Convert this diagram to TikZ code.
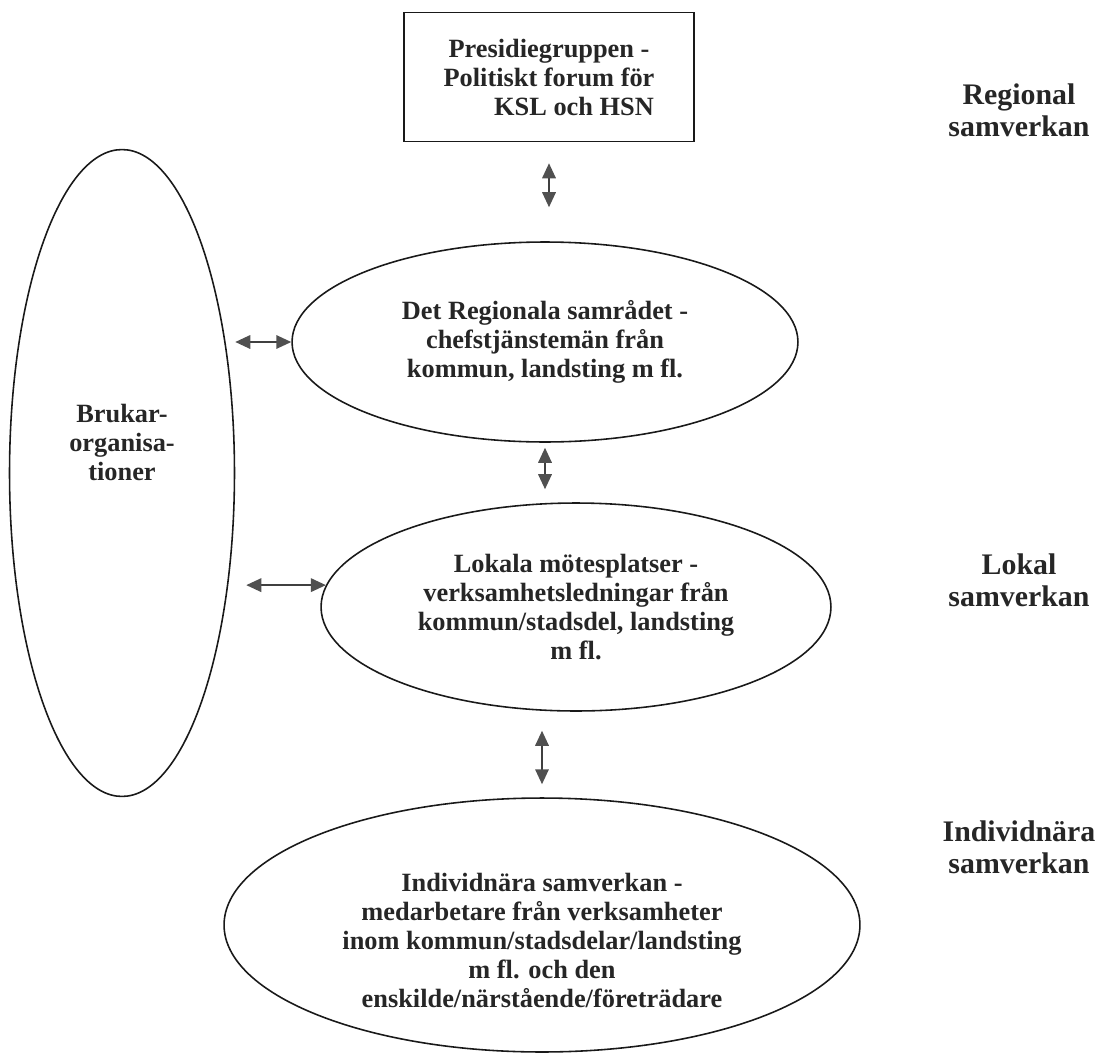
\documentclass[tikz,border=0pt]{standalone}
\usepackage{fontspec}
\setmainfont{Liberation Serif}
\usetikzlibrary{arrows.meta, calc, shapes.geometric}
\definecolor{txtgray}{HTML}{262626}
\definecolor{tipgray}{HTML}{505050}

\begin{document}
\begin{tikzpicture}[x=0.02cm, y=-0.02cm,
    every node/.style={font=\bfseries\fontsize{15}{16.5}\selectfont, text=txtgray, align=center},
    oval/.style={ellipse, draw=black!90, line width=0.9pt, inner sep=0pt},
    level/.style={font=\bfseries\fontsize{17}{18}\selectfont},
    >={Triangle[length=0.3cm, width=0.27cm, color=tipgray]},
    dblarrow/.style={<->, line width=1pt, draw=black!75}]
  \useasboundingbox (0,0) rectangle (1102,1058);

  \node[draw=black!90, line width=0.9pt, minimum width=5.8cm, minimum height=2.58cm] (presidie) at (549,77) {Presidiegruppen -\\ Politiskt forum för\\ \hspace*{1.9em}KSL och HSN};
  \node[oval, minimum width=10.12cm, minimum height=4cm] (reg) at (545,342) {Det Regionala samrådet -\\ chefstjänstemän från\\ kommun, landsting m fl.};
  \node[oval, minimum width=10.2cm, minimum height=4.16cm] (lok) at (576,607) {Lokala mötesplatser -\\ verksamhetsledningar från\\ kommun/stadsdel, landsting\\ m fl.};
  \node[oval, minimum width=12.72cm, minimum height=5.08cm, label={[yshift=-0.3cm]center:{Individnära samverkan -\\ medarbetare från verksamheter\\ inom kommun/stadsdelar/landsting\\ m fl. och den\\ enskilde/närstående/företrädare}}] (indiv) at (542,925) {};
  \node[oval, minimum width=4.5cm, minimum height=12.94cm, label={[yshift=0.62cm]center:{Brukar-\\ organisa-\\ tioner}}] (bruk) at (122,473) {};

  \node[level] (lblreg) at (1019,110) {Regional\\ samverkan};
  \node[level] (lbllok) at (1019,580) {Lokal\\ samverkan};
  \node[level] (lblind) at (1019,847) {Individnära\\ samverkan};

  \draw[dblarrow, shorten <=0.42cm, shorten >=0.68cm] (presidie.south) -- (presidie.south |- reg.north);
  \draw[dblarrow, shorten <=0.1cm, shorten >=0.26cm] (reg.south) -- (reg.south |- lok.north);
  \draw[dblarrow, shorten <=0.38cm, shorten >=0.26cm] (lok.south -| indiv.north) -- (indiv.north);
  \draw[dblarrow] (reg.west -| bruk.east) -- (reg.west);
  \draw[dblarrow, shorten <=0.22cm] (lok.175 -| bruk.east) -- (lok.175);
\end{tikzpicture}
\end{document}
